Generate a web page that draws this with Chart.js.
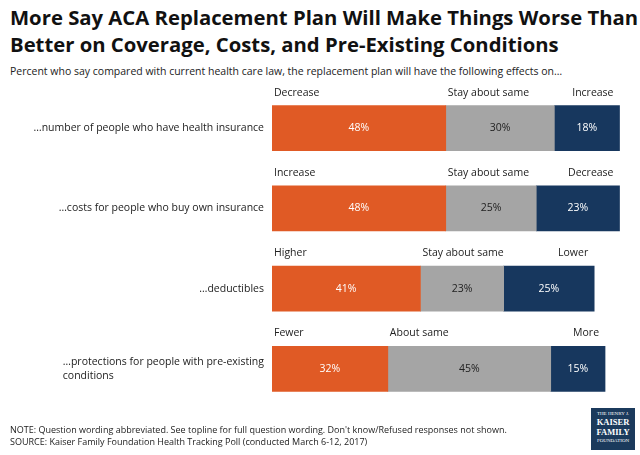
<!DOCTYPE html>
<html lang="en">
<head>
<meta charset="utf-8">
<title>ACA replacement plan</title>
<script src="https://cdn.jsdelivr.net/npm/chart.js"></script>
<style>
body { margin: 0; background: #fff; font-family: "Open Sans", "Noto Sans", sans-serif; }
#wrap { position: relative; width: 640px; height: 455px; overflow: hidden; }
h1 { position: absolute; left: 10px; top: 4px; margin: 0; font-size: 20.3px; line-height: 27px; font-weight: bold; color: #111; white-space: nowrap; }
.sub { position: absolute; left: 10px; top: 64px; font-size: 10.5px; color: #222; white-space: nowrap; }
.note { position: absolute; left: 10px; top: 424px; font-size: 9px; line-height: 12px; color: #222; }
.logo { position: absolute; left: 591px; top: 408px; width: 44px; height: 42px; background: #1b3a5c; color: #fff; text-align: center; font-family: "Liberation Serif", serif; font-size: 5px; line-height: 7px; padding-top: 2px; box-sizing: border-box; }
.logo b { font-size: 8.5px; display: block; line-height: 10px; }
</style>
</head>
<body>
<div id="wrap">
<h1>More Say ACA Replacement Plan Will Make Things Worse Than<br>Better on Coverage, Costs, and Pre-Existing Conditions</h1>
<div class="sub">Percent who say compared with current health care law, the replacement plan will have the following effects on…</div>
<canvas id="myChart" width="640" height="455" style="position:absolute;left:0;top:0"></canvas>
<div class="note">NOTE: Question wording abbreviated. See topline for full question wording. Don't know/Refused responses not shown.<br>SOURCE: Kaiser Family Foundation Health Tracking Poll (conducted March 6-12, 2017)</div>
<div class="logo">THE HENRY J.<b>KAISER</b><b>FAMILY</b>FOUNDATION</div>
</div>
<script>
const categories = [
    ['…number of people who have health insurance'],
    ['…costs for people who buy own insurance'],
    ['…deductibles'],
    ['…protections for people with pre-existing', 'conditions']
];
const worse = [48, 48, 41, 32];
const same = [30, 25, 23, 45];
const better = [18, 23, 25, 15];
const worseNames = ['Decrease', 'Increase', 'Higher', 'Fewer'];
const sameNames = ['Stay about same', 'Stay about same', 'Stay about same', 'About same'];
const betterNames = ['Increase', 'Decrease', 'Lower', 'More'];

const FONT = '"Open Sans", "Noto Sans", sans-serif';

const labelPlugin = {
    id: 'labels',
    afterDatasetsDraw(chart) {
        const c = chart.ctx;
        c.save();
        c.font = '10.5px ' + FONT;
        c.textBaseline = 'middle';
        // category labels
        const meta0 = chart.getDatasetMeta(0);
        categories.forEach((lines, i) => {
            const bar = meta0.data[i];
            c.fillStyle = '#222';
            const w = Math.max(...lines.map(l => c.measureText(l).width));
            const x = 264 - w;
            const y0 = bar.y - (lines.length - 1) * 7;
            lines.forEach((l, j) => { c.textAlign = 'left'; c.fillText(l, x, y0 + j * 14); });
        });
        // segment names above bars and values inside
        const names = [worseNames, sameNames, betterNames];
        chart.data.datasets.forEach((ds, d) => {
            chart.getDatasetMeta(d).data.forEach((bar, i) => {
                const top = bar.y - bar.height / 2;
                const left = Math.min(bar.x, bar.base), right = Math.max(bar.x, bar.base);
                c.fillStyle = '#222';
                if (d === 2) { c.textAlign = 'right'; c.fillText(names[d][i], right - 6, top - 13); }
                else { c.textAlign = 'left'; c.fillText(names[d][i], left + 2, top - 13); }
                c.textAlign = 'center';
                c.fillStyle = d === 1 ? '#222' : '#fff';
                c.fillText(ds.data[i] + '%', (left + right) / 2, bar.y);
            });
        });
        c.restore();
    }
};

new Chart(document.getElementById('myChart'), {
    type: 'bar',
    data: {
        labels: categories.map(l => l.join(' ')),
        datasets: [
            { data: worse, backgroundColor: '#e05a25' },
            { data: same, backgroundColor: '#a5a5a5' },
            { data: better, backgroundColor: '#17375e' }
        ].map(d => Object.assign(d, { barThickness: 45, borderWidth: 0 }))
    },
    options: {
        indexAxis: 'y',
        responsive: false,
        animation: false,
        layout: { padding: { left: 272, right: 6, top: 88, bottom: 46 } },
        plugins: { legend: { display: false }, tooltip: { enabled: false } },
        scales: {
            x: { stacked: true, min: 0, max: 100, display: false },
            y: { stacked: true, display: false }
        }
    },
    plugins: [labelPlugin]
});
</script>
</body>
</html>
